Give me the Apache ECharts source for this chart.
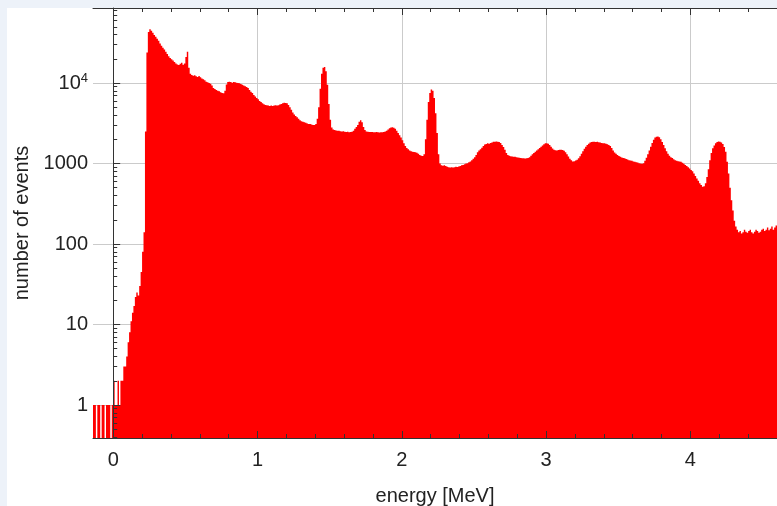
<!DOCTYPE html>
<html>
<head>
<meta charset="utf-8">
<script src="https://cdn.jsdelivr.net/npm/echarts@6/dist/echarts.min.js"></script>
<style>
  html, body { margin: 0; padding: 0; background: #edf2f9; overflow: hidden; }
  #sheet { position: absolute; left: 7px; top: 8px; width: 770px; height: 498px; background: #fff; }
  #chart { position: absolute; left: 0; top: 0; width: 777px; height: 506px; }
</style>
</head>
<body>
<div id="sheet"></div>
<div id="chart"></div>
<script>
// energy spectrum, 0.01 MeV bins, counts (0 = empty bin)
const BIN_START = -0.14
const BIN_WIDTH = 0.01

const countsBelow0 = [1, 1, 0, 1, 1, 0, 1, 1, 0, 1, 1, 1, 0, 1]

const counts0to1 = [
  2, 1, 1, 2, 1, 2, 2, 3, 3, 4,
  6, 8, 11, 14, 17, 22, 25, 23, 30, 45,
  80, 140, 2500, 24000, 43000, 46500, 44500, 42000, 39500, 37500,
  35500, 33500, 31000, 29000, 27500, 26000, 24500, 23000, 21500, 20500,
  19800, 19000, 18200, 17500, 17000, 16700, 17300, 17800, 16900, 17500,
  21000, 24500, 15500, 13000, 12600, 12300, 12500, 12100, 11900, 12200,
  11800, 11400, 11100, 10800, 10400, 10200, 10000, 9800, 9300, 8700,
  8400, 8200, 8000, 7900, 7700, 7500, 7450, 8000, 9600, 10300,
  10400, 10300, 10100, 10300, 10200, 10100, 10000, 9900, 9700, 9500,
  9300, 9100, 8900, 8700, 8200, 7800, 7500, 7100, 6800, 6500,
]

const counts1to2 = [
  6300, 6000, 5800, 5600, 5450, 5350, 5300, 5250, 5200, 5250,
  5200, 5250, 5300, 5250, 5300, 5400, 5500, 5600, 5700, 5650,
  5600, 5350, 5000, 4650, 4300, 4050, 3900, 3750, 3600, 3450,
  3350, 3300, 3250, 3200, 3150, 3100, 3100, 3050, 3000, 3000,
  3100, 3600, 5000, 8500, 13000, 15500, 15800, 14000, 9500, 5500,
  3500, 2800, 2650, 2600, 2580, 2550, 2560, 2520, 2500, 2510,
  2480, 2470, 2480, 2450, 2460, 2480, 2550, 2700, 2850, 3000,
  3300, 3450, 3250, 2850, 2600, 2500, 2480, 2470, 2460, 2470,
  2450, 2440, 2460, 2450, 2430, 2440, 2450, 2470, 2500, 2560,
  2650, 2750, 2800, 2820, 2780, 2700, 2550, 2400, 2250, 2100,
]

const counts2to3 = [
  1950, 1780, 1650, 1560, 1500, 1450, 1420, 1400, 1390, 1380,
  1360, 1320, 1280, 1250, 1240, 1300, 2000, 3500, 5800, 7500,
  8300, 8000, 6500, 4200, 2400, 1300, 1000, 950, 940, 950,
  930, 910, 900, 895, 900, 890, 900, 910, 905, 920,
  930, 950, 960, 980, 1000, 1010, 1040, 1060, 1100, 1150,
  1200, 1280, 1380, 1450, 1500, 1570, 1650, 1720, 1750, 1780,
  1760, 1800, 1830, 1860, 1870, 1880, 1860, 1850, 1800, 1700,
  1600, 1480, 1350, 1280, 1250, 1230, 1220, 1210, 1215, 1200,
  1190, 1180, 1170, 1160, 1165, 1155, 1160, 1170, 1200, 1250,
  1300, 1350, 1400, 1450, 1500, 1560, 1620, 1680, 1740, 1780,
]

const counts3to4 = [
  1780, 1760, 1700, 1620, 1540, 1480, 1460, 1450, 1470, 1480,
  1480, 1470, 1440, 1380, 1300, 1220, 1150, 1100, 1060, 1070,
  1090, 1110, 1160, 1230, 1320, 1420, 1530, 1620, 1700, 1760,
  1820, 1850, 1870, 1860, 1850, 1860, 1840, 1830, 1800, 1790,
  1780, 1760, 1730, 1700, 1650, 1560, 1450, 1370, 1320, 1280,
  1240, 1210, 1190, 1170, 1160, 1140, 1120, 1100, 1090, 1080,
  1060, 1050, 1040, 1030, 1010, 1000, 990, 1010, 1080, 1180,
  1300, 1450, 1620, 1800, 1980, 2100, 2150, 2160, 2120, 2000,
  1850, 1700, 1550, 1420, 1320, 1250, 1200, 1170, 1130, 1100,
  1080, 1070, 1060, 1050, 1020, 990, 960, 930, 900, 870,
]

const counts4to46 = [
  830, 800, 750, 700, 650, 610, 570, 540, 515, 520,
  570, 680, 850, 1100, 1350, 1550, 1680, 1780, 1850, 1880,
  1860, 1820, 1750, 1600, 1400, 1050, 750, 500, 350, 260,
  195, 165, 150, 140, 145, 135, 140, 150, 142, 138,
  145, 150, 140, 135, 142, 150, 145, 138, 142, 150,
  155, 145, 150, 160, 148, 155, 165, 150, 160, 170,
]

const xTickLabels = [0, 1, 2, 3, 4]
const xMinorTicks = [0.2, 0.4, 0.6, 0.8, 1.2, 1.4, 1.6, 1.8, 2.2, 2.4, 2.6, 2.8,
  3.2, 3.4, 3.6, 3.8, 4.2, 4.4]
const yTickLabels = [1, 10, 100, 1000, 10000]
const yMinorTicks = [0.4, 0.5, 0.6, 0.7, 0.8, 0.9,
  2, 3, 4, 5, 6, 7, 8, 9, 20, 30, 40, 50, 60, 70, 80, 90,
  200, 300, 400, 500, 600, 700, 800, 900,
  2000, 3000, 4000, 5000, 6000, 7000, 8000, 9000,
  20000, 30000, 40000, 50000, 60000, 70000, 80000]

const X_MIN = -0.14
const X_MAX = 4.6
const Y_MIN = 0.389
const Y_MAX = 85500

const FONT = 'Liberation Sans, Arial, sans-serif'
const INK = '#222'
const RED = '#ff0000'

const counts = [].concat(countsBelow0, counts0to1, counts1to2, counts2to3, counts3to4, counts4to46)
const histData = counts.map((n, i) => [
  Math.round((BIN_START + (i + 0.5) * BIN_WIDTH) * 1000) / 1000,
  n > 0 ? n : '-',
])

// overlay axes only carry frame lines + tick marks, drawn above the bars
function tickX(position, values, length, showLine) {
  return {
    type: 'value', position, min: X_MIN, max: X_MAX, z: 5,
    axisLine: { show: showLine, lineStyle: { color: '#333', width: 1 } },
    axisTick: { show: true, inside: true, length, customValues: values, lineStyle: { color: '#333' } },
    axisLabel: { show: false },
    splitLine: { show: false },
  }
}
function tickY(values, length, showLine) {
  return {
    type: 'log', position: 'left', min: Y_MIN, max: Y_MAX, z: 5,
    axisLine: { show: showLine, lineStyle: { color: '#333', width: 1 } },
    axisTick: { show: true, inside: true, length, customValues: values, lineStyle: { color: '#333' } },
    axisLabel: { show: false },
    splitLine: { show: false },
  }
}

const chart = echarts.init(document.getElementById('chart'), null, { renderer: 'canvas' })
chart.setOption({
  animation: false,
  backgroundColor: 'transparent',
  grid: { left: 93, right: 0, top: 8, bottom: 68, containLabel: false, outerBoundsMode: 'none' },
  xAxis: [
    {
      type: 'value', position: 'bottom', min: X_MIN, max: X_MAX,
      axisLine: { show: false },
      axisTick: { show: false, customValues: xTickLabels },
      axisLabel: {
        customValues: xTickLabels, fontSize: 20, color: INK, fontFamily: FONT, margin: 12,
      },
      splitLine: { show: true, lineStyle: { color: '#cbcbcb', width: 1 } },
      name: 'energy [MeV]', nameLocation: 'middle', nameGap: 48,
      nameTextStyle: { fontSize: 20, color: INK, fontFamily: FONT },
    },
    tickX('bottom', xTickLabels, 7, true),
    tickX('bottom', xMinorTicks, 4, false),
    tickX('top', xTickLabels, 7, true),
    tickX('top', xMinorTicks, 4, false),
  ],
  yAxis: [
    {
      type: 'log', logBase: 10, position: 'left', min: Y_MIN, max: Y_MAX, startValue: Y_MIN,
      axisLine: { show: false },
      axisTick: { show: false, customValues: yTickLabels },
      axisLabel: {
        customValues: yTickLabels, fontSize: 20, color: INK, fontFamily: FONT, margin: 5,
        formatter: v => {
          const p = Math.round(Math.log10(v))
          return p >= 4 ? '10{sup|' + p + '}' : String(Math.round(v))
        },
        rich: {
          sup: { fontSize: 13, color: INK, fontFamily: FONT, padding: [0, 0, 10, 0] },
        },
      },
      splitLine: { show: true, lineStyle: { color: '#cbcbcb', width: 1 } },
      name: 'number of events', nameLocation: 'middle', nameGap: 58,
      nameTextStyle: { fontSize: 20, color: INK, fontFamily: FONT },
    },
    tickY(yTickLabels, 7, true),
    tickY(yMinorTicks, 4, false),
  ],
  series: [
    {
      type: 'bar',
      xAxisIndex: 0,
      yAxisIndex: 0,
      data: histData,
      large: true,
      largeThreshold: 100,
      barWidth: '100%',
      itemStyle: { color: RED, borderWidth: 0 },
      silent: true,
    },
  ],
})
</script>
</body>
</html>
